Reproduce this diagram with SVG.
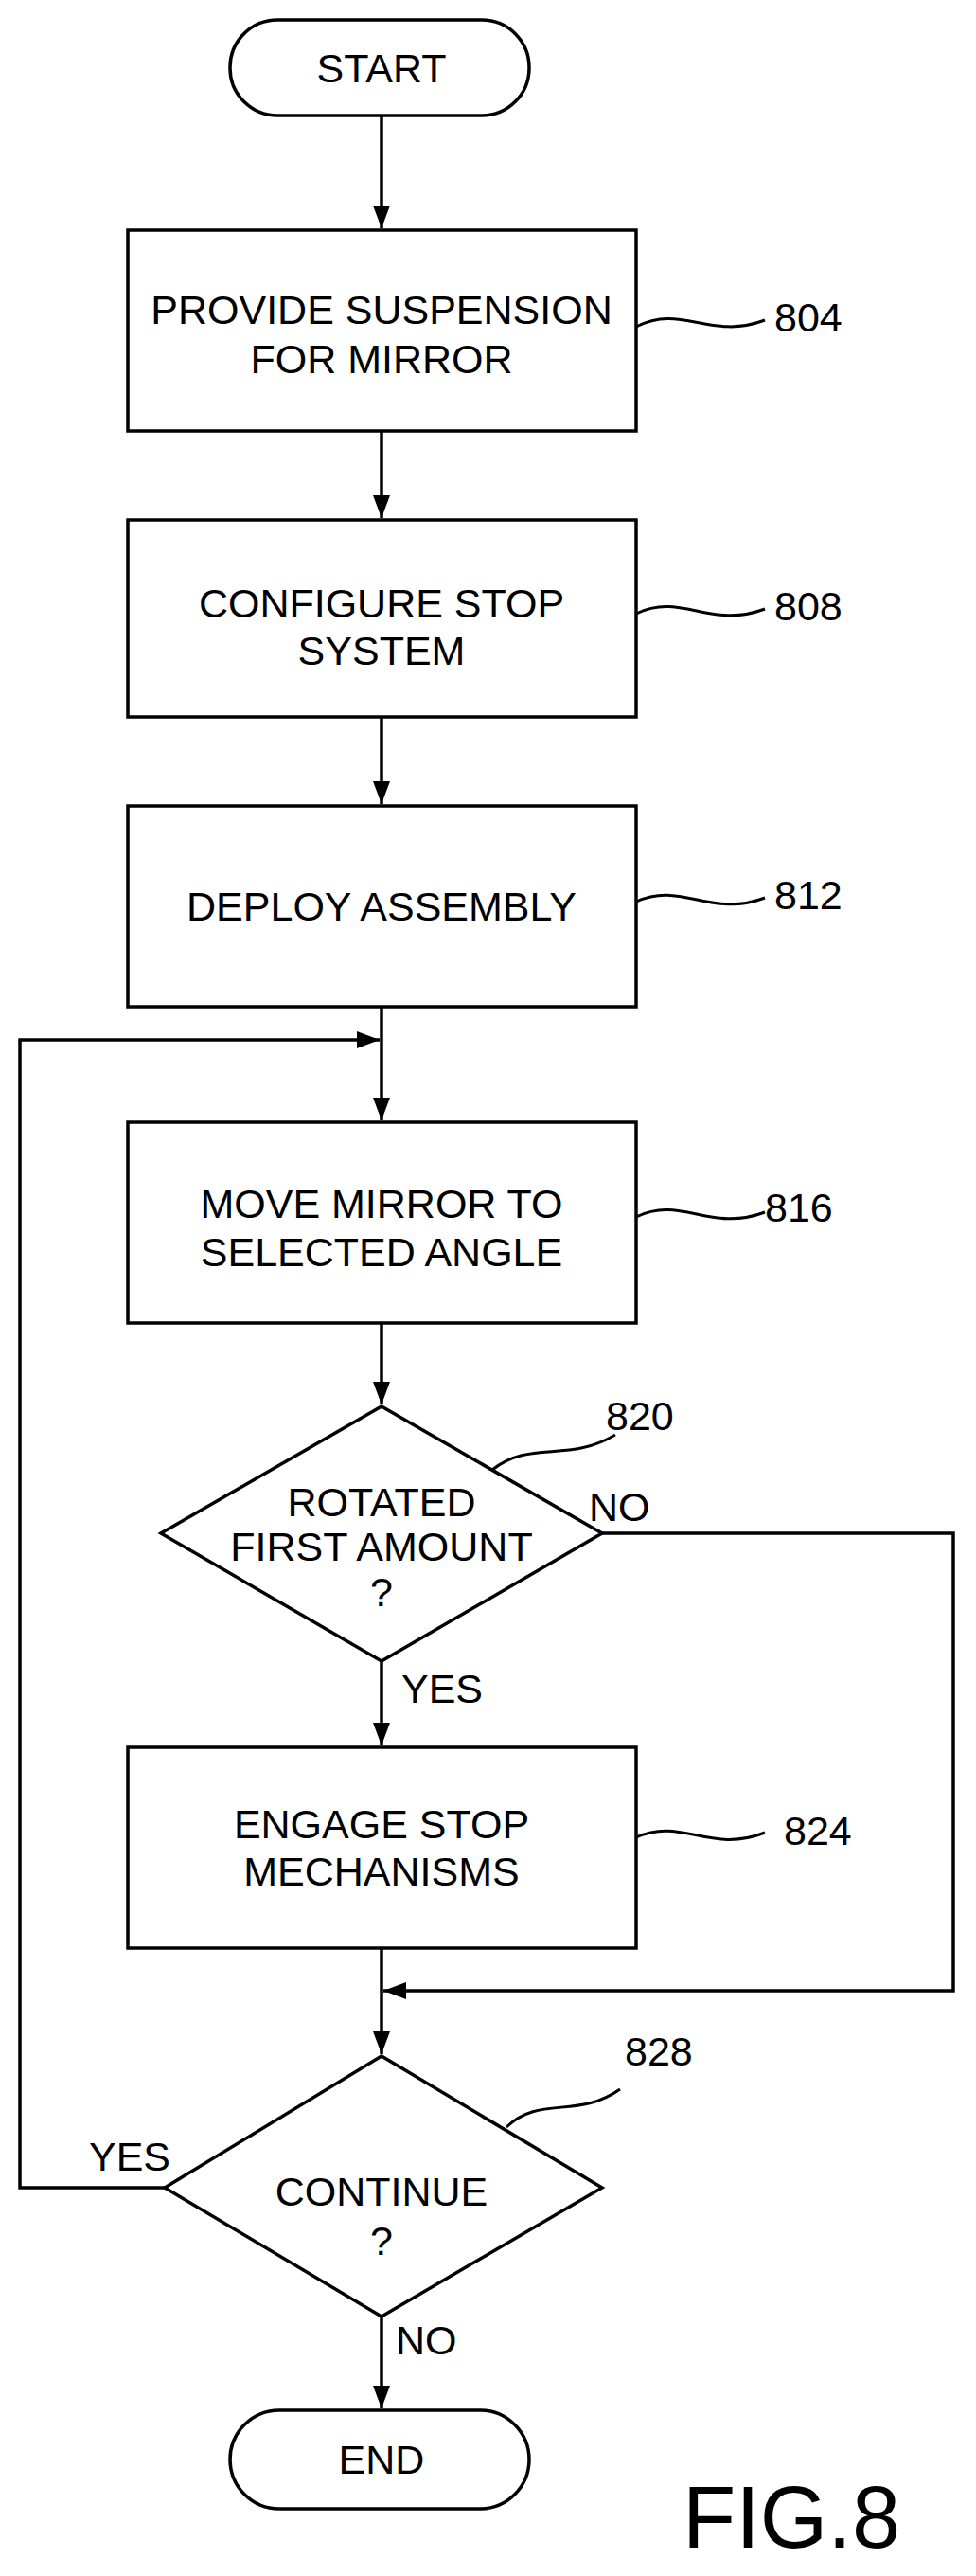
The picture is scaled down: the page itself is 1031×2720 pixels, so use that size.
<svg xmlns="http://www.w3.org/2000/svg" width="1031" height="2720" viewBox="0 0 1031 2720">
<style>
.s{fill:#fff;stroke:#000;stroke-width:3.5}
.l{fill:none;stroke:#000;stroke-width:3.5}
.q{fill:none;stroke:#000;stroke-width:3}
text{font-family:"Liberation Sans",Arial,sans-serif;font-size:43px;fill:#000;text-anchor:middle}
.r{text-anchor:start}
</style>
<defs>
<marker id="b" markerWidth="26" markerHeight="24" refX="24" refY="12" orient="auto" markerUnits="userSpaceOnUse"><path d="M0,3 L24,12 L0,21z" fill="#000"/></marker></defs>
<g id="connectors">
<path class="l" d="M403,122 V241" marker-end="url(#b)"/>
<path class="l" d="M403,455 V547" marker-end="url(#b)"/>
<path class="l" d="M403,757 V849" marker-end="url(#b)"/>
<path class="l" d="M403,1063 V1183" marker-end="url(#b)"/>
<path class="l" d="M403,1397 V1483" marker-end="url(#b)"/>
<path class="l" d="M403,1754 V1843" marker-end="url(#b)"/>
<path class="l" d="M403,2057 V2169" marker-end="url(#b)"/>
<path class="l" d="M403,2446 V2543" marker-end="url(#b)"/>
<path class="l" d="M636,1619 H1007 V2102 H405" marker-end="url(#b)"/>
<path class="l" d="M174,2310 H21 V1098 H401" marker-end="url(#b)"/>
</g>
<g id="start"><rect class="s" x="243" y="21" width="316" height="101" rx="50"/><text x="403" y="87">START</text></g>
<g id="n804"><rect class="s" x="135" y="243" width="537" height="212"/><text x="403" y="342">PROVIDE SUSPENSION</text><text x="403" y="394">FOR MIRROR</text>
<path class="q" d="M672,345 C720,320 750,360 808,338"/><text class="r" x="818" y="350">804</text></g>
<g id="n808"><rect class="s" x="135" y="549" width="537" height="208"/><text x="403" y="652">CONFIGURE STOP</text><text x="403" y="702">SYSTEM</text>
<path class="q" d="M672,648 C720,625 750,665 808,643"/><text class="r" x="818" y="655">808</text></g>
<g id="n812"><rect class="s" x="135" y="851" width="537" height="212"/><text x="403" y="972">DEPLOY ASSEMBLY</text>
<path class="q" d="M672,952 C720,930 750,970 808,948"/><text class="r" x="818" y="960">812</text></g>
<g id="n816"><rect class="s" x="135" y="1185" width="537" height="212"/><text x="403" y="1286">MOVE MIRROR TO</text><text x="403" y="1337">SELECTED ANGLE</text>
<path class="q" d="M672,1285 C720,1262 750,1302 808,1280"/><text class="r" x="808" y="1290">816</text></g>
<g id="n820"><path class="s" d="M403,1485 L636,1619 L403,1754 L170,1619 Z"/><text x="403" y="1601">ROTATED</text><text x="403" y="1648">FIRST AMOUNT</text><text x="403" y="1696">?</text>
<path class="q" d="M520,1552 C560,1520 600,1545 650,1515"/><text class="r" x="640" y="1510">820</text>
<text class="r" x="622" y="1606">NO</text><text class="r" x="424" y="1798">YES</text></g>
<g id="n824"><rect class="s" x="135" y="1845" width="537" height="212"/><text x="403" y="1941">ENGAGE STOP</text><text x="403" y="1991">MECHANISMS</text>
<path class="q" d="M672,1940 C720,1918 750,1958 808,1935"/><text class="r" x="828" y="1948">824</text></g>
<g id="n828"><path class="s" d="M403,2171 L636,2310 L403,2446 L174,2310 Z"/><text x="403" y="2329">CONTINUE</text><text x="403" y="2381">?</text>
<path class="q" d="M535,2246 C570,2212 610,2238 655,2206"/><text class="r" x="660" y="2181">828</text>
<text class="r" x="94" y="2292">YES</text><text class="r" x="418" y="2486">NO</text></g>
<g id="end"><rect class="s" x="243" y="2545" width="316" height="104" rx="52"/><text x="403" y="2612">END</text></g>
<text class="r" x="721" y="2690" style="font-size:92px">FIG.8</text>
</svg>
